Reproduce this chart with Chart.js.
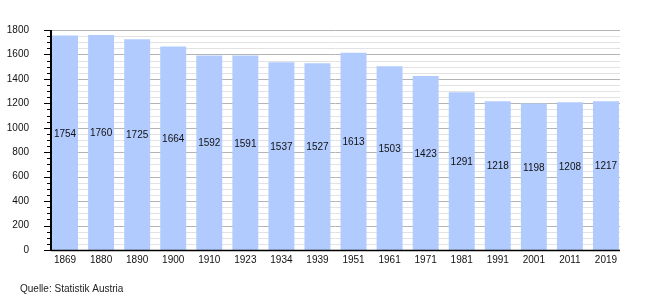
<!DOCTYPE html>
<html lang="de">
<head>
    <meta charset="UTF-8">
    <title>Bevölkerungsentwicklung</title>
    <style>
        body {
            margin: 0;
            padding: 0;
            background: #ffffff;
        }

        .chart-box {
            width: 650px;
            height: 300px;
            position: relative;
        }
    </style>
</head>
<body>
    <div class="chart-box">
        <canvas id="popChart" width="650" height="300"></canvas>
    </div>

    <script src="https://cdn.jsdelivr.net/npm/chart.js"></script>
    <script>
        // Data
        const years = ['1869', '1880', '1890', '1900', '1910', '1923', '1934', '1939',
                       '1951', '1961', '1971', '1981', '1991', '2001', '2011', '2019'];
        const population = [1754, 1760, 1725, 1664, 1592, 1591, 1537, 1527,
                            1613, 1503, 1423, 1291, 1218, 1198, 1208, 1217];
        const yTicks = [0, 200, 400, 600, 800, 1000, 1200, 1400, 1600, 1800];
        const minorStep = 50;
        const sourceNote = 'Quelle: Statistik Austria';

        const FONT = '"Liberation Sans", Arial, sans-serif';
        const AXIS_LEFT = 51;
        const AXIS_RIGHT = 620;

        // grid + axis lines drawn by hand so they can stop at the axis ends
        const framePlugin = {
            id: 'frame',
            beforeDatasetsDraw(chart) {
                const ctx = chart.ctx;
                const y = chart.scales.y;
                ctx.save();
                ctx.lineWidth = 1;
                for (let v = minorStep; v <= y.max; v += minorStep) {
                    const py = Math.round(y.getPixelForValue(v)) + 0.5;
                    ctx.strokeStyle = yTicks.includes(v) ? '#b4b4b4' : '#e2e2e2';
                    ctx.beginPath();
                    ctx.moveTo(AXIS_LEFT, py);
                    ctx.lineTo(AXIS_RIGHT, py);
                    ctx.stroke();
                }
                ctx.restore();
            },
            afterDatasetsDraw(chart) {
                const ctx = chart.ctx;
                const y = chart.scales.y;
                const top = y.getPixelForValue(y.max);
                const bottom = y.getPixelForValue(0);
                ctx.save();
                ctx.strokeStyle = '#000';

                // tick marks
                ctx.lineWidth = 1;
                for (let v = 0; v <= y.max; v += minorStep) {
                    const py = Math.round(y.getPixelForValue(v)) + 0.5;
                    const len = yTicks.includes(v) ? 7 : 4;
                    ctx.beginPath();
                    ctx.moveTo(AXIS_LEFT - len, py);
                    ctx.lineTo(AXIS_LEFT, py);
                    ctx.stroke();
                }

                // y axis
                ctx.lineWidth = 2;
                ctx.beginPath();
                ctx.moveTo(AXIS_LEFT, top);
                ctx.lineTo(AXIS_LEFT, bottom + 1);
                ctx.stroke();

                // x axis
                ctx.lineWidth = 1.6;
                ctx.beginPath();
                ctx.moveTo(AXIS_LEFT, Math.round(bottom) + 0.5);
                ctx.lineTo(AXIS_RIGHT, Math.round(bottom) + 0.5);
                ctx.stroke();

                // values inside the bars
                ctx.fillStyle = '#111';
                ctx.font = '10px ' + FONT;
                ctx.textAlign = 'center';
                ctx.textBaseline = 'middle';
                const meta = chart.getDatasetMeta(0);
                meta.data.forEach((bar, i) => {
                    const p = bar.getProps(['x', 'y', 'base'], true);
                    ctx.fillText(String(population[i]), p.x, (p.y + p.base) / 2 - 9);
                });

                // source note
                ctx.textAlign = 'left';
                ctx.fillStyle = '#222';
                ctx.fillText(sourceNote, 20, 289);
                ctx.restore();
            }
        };

        const ctx = document.getElementById('popChart').getContext('2d');
        new Chart(ctx, {
            type: 'bar',
            data: {
                labels: years,
                datasets: [{
                    data: population,
                    backgroundColor: '#b2cbff',
                    borderWidth: 0,
                    barPercentage: 1,
                    categoryPercentage: 0.72
                }]
            },
            options: {
                responsive: false,
                animation: false,
                events: [],
                layout: {
                    padding: { top: 30, right: 26, bottom: 0, left: 0 }
                },
                plugins: {
                    legend: { display: false },
                    tooltip: { enabled: false }
                },
                scales: {
                    x: {
                        offset: true,
                        grid: { display: false },
                        border: { display: false },
                        ticks: {
                            color: '#111',
                            font: { family: FONT, size: 10 },
                            padding: -4,
                            maxRotation: 0
                        },
                        afterFit(scale) { scale.height = 50; }
                    },
                    y: {
                        min: 0,
                        max: 1800,
                        grid: { display: false },
                        border: { display: false },
                        afterBuildTicks(scale) {
                            scale.ticks = yTicks.map(v => ({ value: v }));
                        },
                        ticks: {
                            color: '#111',
                            font: { family: FONT, size: 10 },
                            padding: 10,
                            callback: v => String(v)
                        },
                        afterFit(scale) { scale.width = 47; }
                    }
                }
            },
            plugins: [framePlugin]
        });
    </script>
</body>
</html>
